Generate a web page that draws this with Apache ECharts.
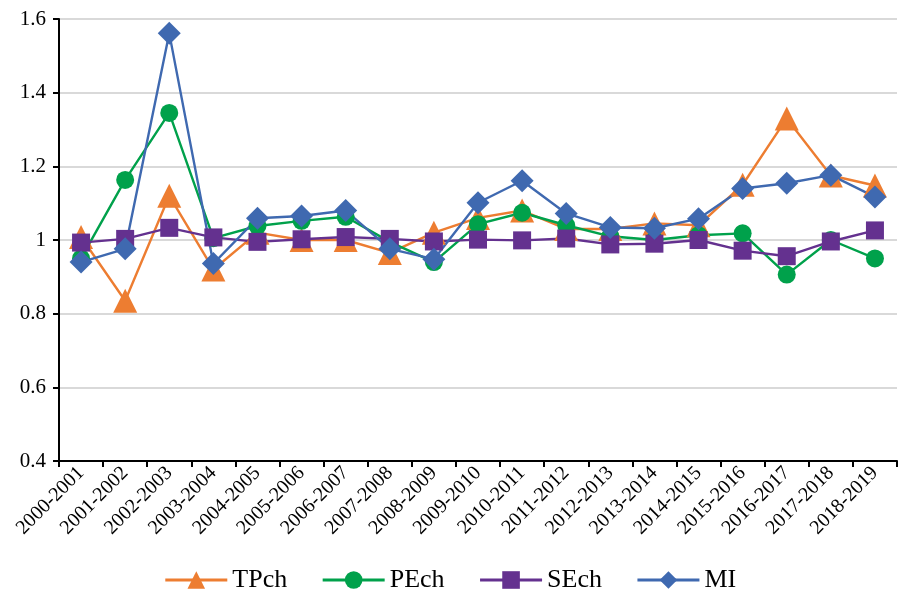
<!DOCTYPE html>
<html><head><meta charset="utf-8">
<script src="https://cdn.jsdelivr.net/npm/echarts@6/dist/echarts.min.js"></script>
<style>html,body{margin:0;padding:0;background:#fff}#c{width:900px;height:598px}</style>
</head><body><div id="c"></div>
<script>
const categories = ['2000-2001','2001-2002','2002-2003','2003-2004','2004-2005','2005-2006','2006-2007','2007-2008','2008-2009','2009-2010','2010-2011','2011-2012','2012-2013','2013-2014','2014-2015','2015-2016','2016-2017','2017-2018','2018-2019'];
const TPch = [1.008,0.835,1.12,0.92,1.02,1.0,1.0,0.965,1.02,1.06,1.08,1.03,1.03,1.045,1.04,1.15,1.33,1.175,1.148];
const PEch = [0.95,1.163,1.345,1.005,1.038,1.052,1.063,0.995,0.94,1.043,1.074,1.04,1.01,1.0,1.013,1.018,0.906,1.0,0.95];
const SEch = [0.993,1.003,1.033,1.007,0.995,1.002,1.008,1.003,0.996,1.001,0.999,1.004,0.988,0.99,1.0,0.971,0.956,0.996,1.026];
const MI   = [0.94,0.976,1.561,0.936,1.059,1.065,1.08,0.976,0.948,1.101,1.161,1.072,1.034,1.032,1.058,1.14,1.154,1.176,1.117];
const yTicks = [0.4,0.6,0.8,1,1.2,1.4,1.6];

const font = '"Liberation Serif","Times New Roman",serif';
function mk(name, data, color, symbol, size){
  return {name, type:'line', data, symbol, symbolSize:size,
    lineStyle:{color, width:2.4}, itemStyle:{color}, z: 2};
}
const chart = echarts.init(document.getElementById('c'));
chart.setOption({
  animation:false,
  grid:{left:59, right:3, top:19, bottom:137},
  legend:{bottom:0, left:'center', itemWidth:62, itemHeight:22, itemGap:34,
    lineStyle:{width:3},
    textStyle:{fontFamily:font, fontSize:26, color:'#000'},
    data:['TPch','PEch','SEch','MI']},
  xAxis:{type:'category', data:categories, boundaryGap:true,
    axisLine:{lineStyle:{color:'#000', width:2}},
    axisTick:{show:true, alignWithLabel:false, length:6, lineStyle:{color:'#000', width:2}},
    axisLabel:{rotate:45, fontFamily:font, fontSize:20, color:'#000', interval:0, margin:9}},
  yAxis:{type:'value', min:0.4, max:1.6, interval:0.2,
    axisLine:{show:true, lineStyle:{color:'#000', width:2}},
    axisTick:{show:true, length:6, lineStyle:{color:'#000', width:2}},
    splitLine:{lineStyle:{color:'#d9d9d9', width:2}},
    axisLabel:{fontFamily:font, fontSize:21, color:'#000', margin:13,
      formatter: v => { const t = yTicks.find(x => Math.abs(x-v)<1e-9); return t===undefined? '' : String(t); }}},
  series:[
    mk('TPch', TPch, '#ED7D31', 'triangle', 24),
    mk('PEch', PEch, '#00A14B', 'circle', 18),
    mk('SEch', SEch, '#64318F', 'rect', 18),
    mk('MI', MI, '#3F69B0', 'diamond', 23)
  ]
});
</script></body></html>
